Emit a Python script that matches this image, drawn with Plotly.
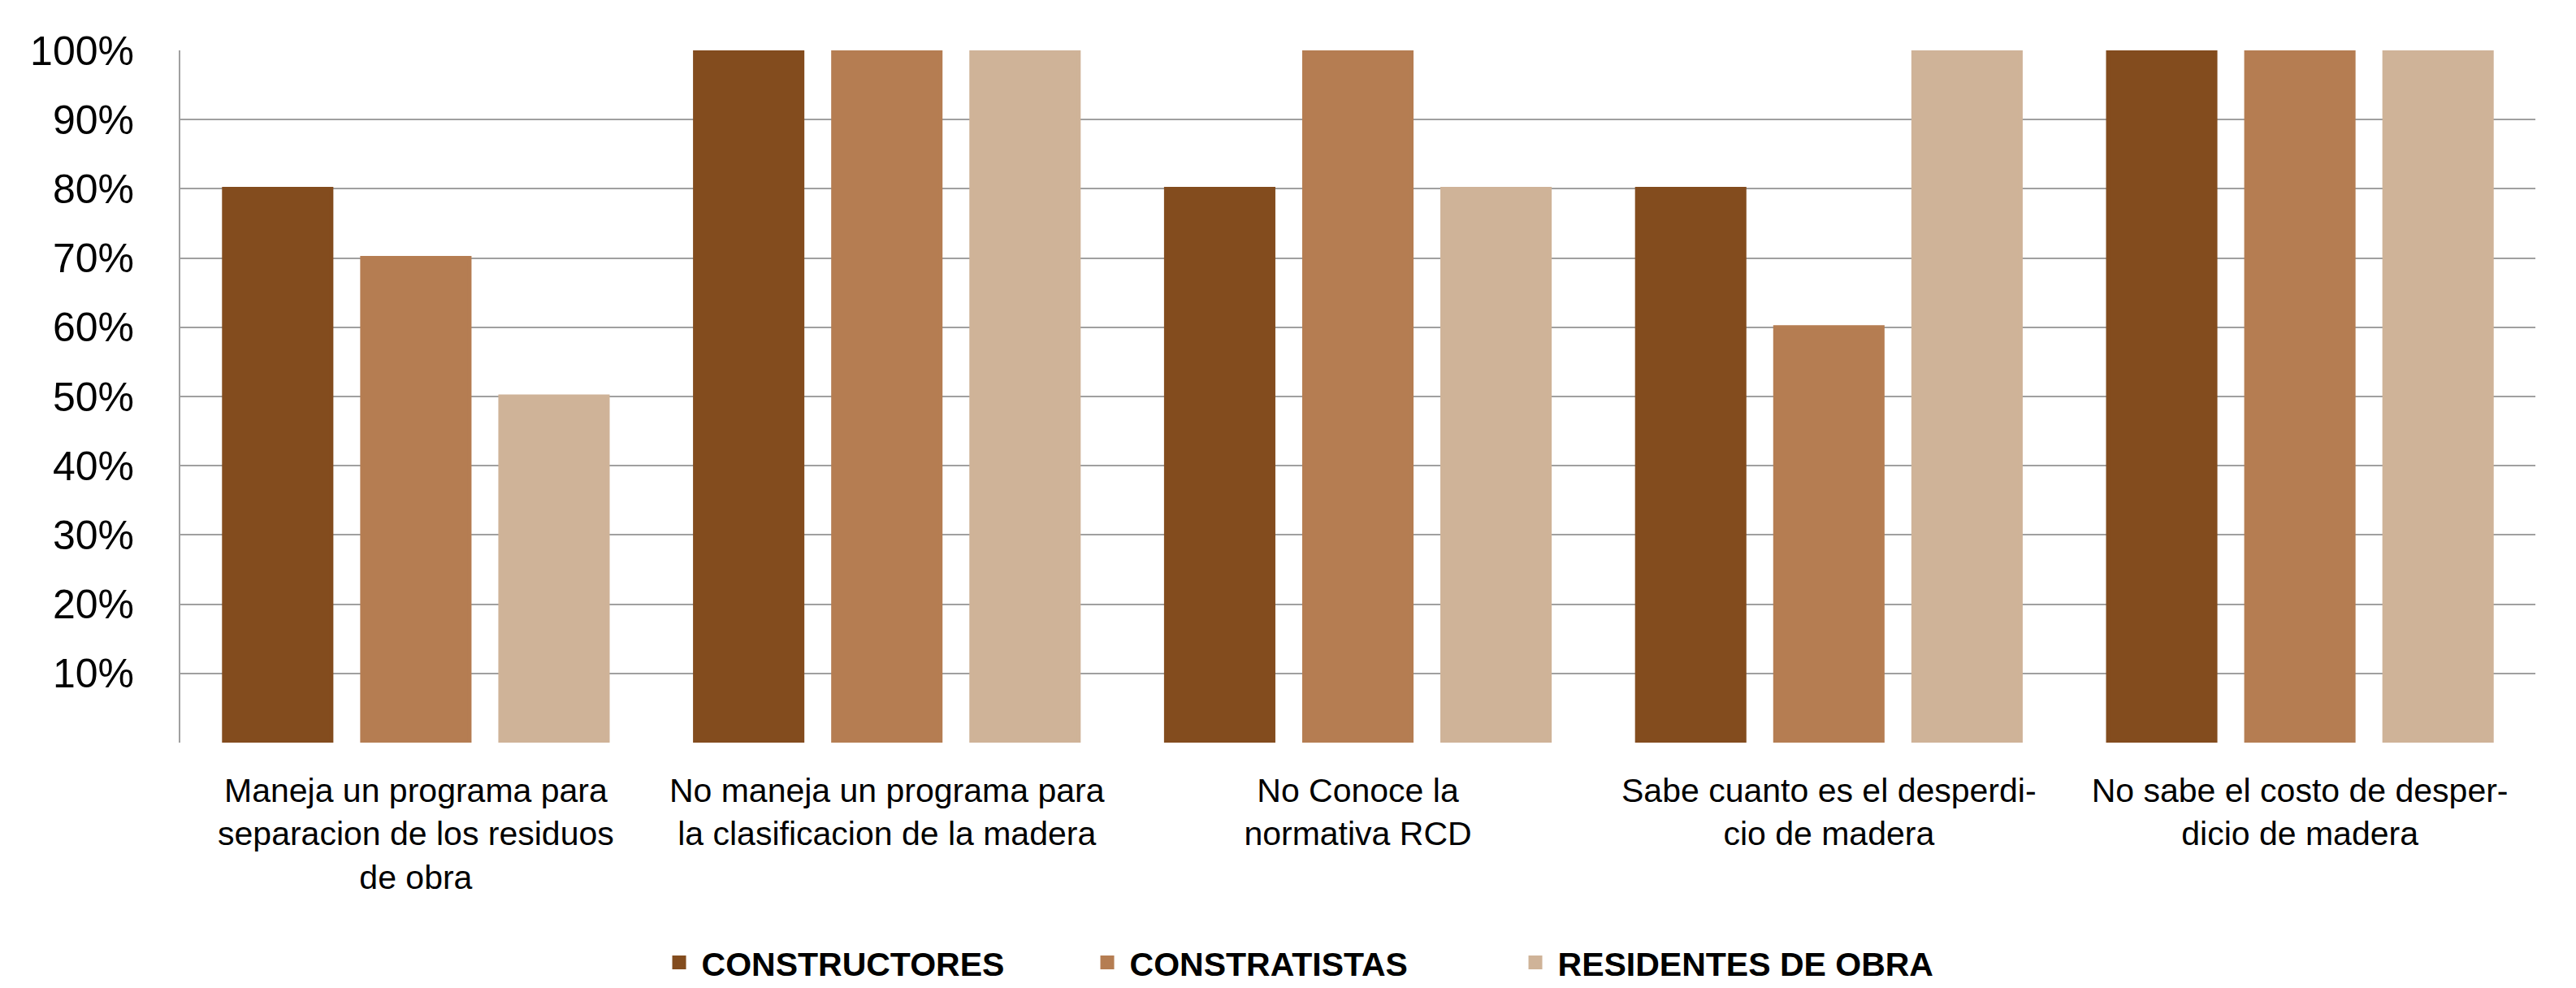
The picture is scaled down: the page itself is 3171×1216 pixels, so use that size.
import plotly.graph_objects as go

categories = [
    "Maneja un programa para<br>separacion de los residuos<br>de obra",
    "No maneja un programa para<br>la clasificacion de la madera",
    "No Conoce la<br>normativa RCD",
    "Sabe cuanto es el desperdi-<br>cio de madera",
    "No sabe el costo de desper-<br>dicio de madera",
]
series_names = ["CONSTRUCTORES", "CONSTRATISTAS", "RESIDENTES DE OBRA"]
constructores = [80, 100, 80, 80, 100]
constratistas = [70, 100, 100, 60, 100]
residentes = [50, 100, 80, 100, 100]
tick_values = [10, 20, 30, 40, 50, 60, 70, 80, 90, 100]
tick_labels = ["10%", "20%", "30%", "40%", "50%", "60%", "70%", "80%", "90%", "100%"]

colors = ["#834C1E", "#B57D52", "#CFB398"]
FONT = "Liberation Sans, Arial, sans-serif"

fig = go.Figure()
for name, vals, col in zip(series_names, [constructores, constratistas, residentes], colors):
    fig.add_trace(go.Bar(x=categories, y=vals, name=name,
                         marker=dict(color=col, line=dict(width=5, color=col)),
                         cliponaxis=True))

fig.update_layout(
    width=3171, height=1216,
    paper_bgcolor="white", plot_bgcolor="white",
    margin=dict(l=222, r=50, t=62, b=302, autoexpand=False),
    barmode="group", bargap=0.12, bargroupgap=0.2235,
    font=dict(family=FONT, color="black"),
    showlegend=True,
    legend=dict(
        orientation="h", x=0.475, xanchor="center", y=-0.318, yanchor="middle",
        font=dict(family=FONT, size=41, color="black", weight="bold"),
        entrywidth=467, entrywidthmode="pixels",
        itemwidth=45,
    ),
)
fig.update_xaxes(
    showline=False, showgrid=False, zeroline=False,
    tickfont=dict(family=FONT, size=41, color="black"),
    ticks="", ticklabelstandoff=31,
)
fig.update_yaxes(
    range=[0, 100], tickvals=tick_values, ticktext=tick_labels,
    showgrid=True, gridcolor="#A0A0A0", gridwidth=2,
    showline=True, linecolor="#A0A0A0", linewidth=2,
    zeroline=False, ticks="",
    tickfont=dict(family=FONT, size=50, color="black"),
    ticklabelstandoff=45,
)

fig.write_html(
    "out.html",
    include_plotlyjs=True,
    config={"displayModeBar": False},
    post_script="document.body.style.margin='0';document.body.style.overflow='hidden';",
)
